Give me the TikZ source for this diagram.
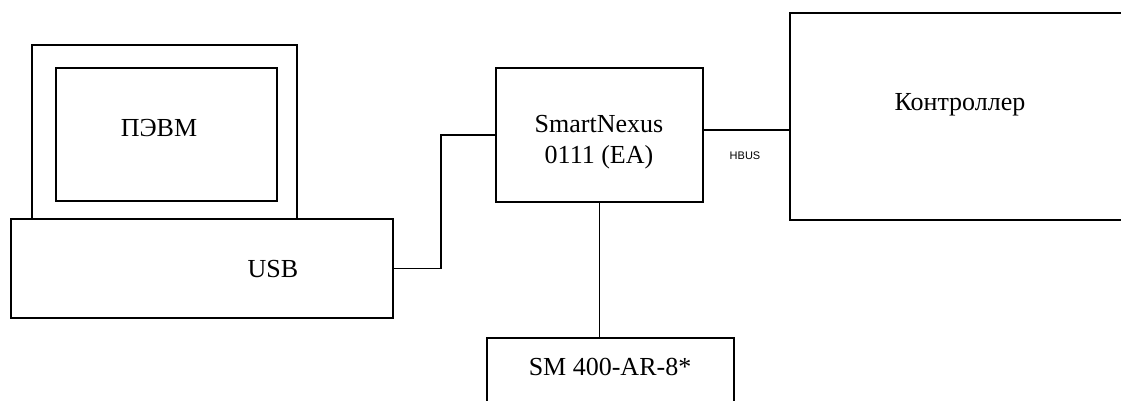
\documentclass[tikz,border=0pt]{standalone}
\usepackage{fontspec}
\setmainfont{Liberation Serif}
\newfontfamily\hbusfont{Liberation Sans}
\begin{document}
\begin{tikzpicture}[x=1pt,y=-1pt,
  box/.style={draw, line width=1.8pt, rectangle, inner sep=0pt},
  txt/.style={font=\fontsize{26}{31}\selectfont, inner sep=0pt, align=center},
  wire/.style={line width=1.6pt}]
\useasboundingbox (0,0) rectangle (1121,401);
\clip (0,0) rectangle (1121,401);
% PC
\node[box, minimum width=265pt, minimum height=174pt] (mon) at (164.5,132) {};
\node[box, minimum width=221pt, minimum height=133pt] (scr) at (166.5,134.5) {};
\node[txt] (pcl) at (159,128) {ПЭВМ};
\node[box, fill=white, minimum width=382pt, minimum height=99pt] (base) at (202,268.5) {};
\node[txt] (usb) at (273,269) {USB};
% SmartNexus
\node[box, minimum width=207pt, minimum height=134pt] (sn) at (599.5,135) {};
\node[txt] (snl) at (599,142) {SmartNexus\\0111 (EA)};
% Controller
\node[box, minimum width=360pt, minimum height=207pt] (ctrl) at (970,116.5) {};
\node[txt] (ctl) at (960,105) {Контроллер};
% SM module
\node[box, minimum width=247pt, minimum height=100pt] (sm) at (610.5,388) {};
\node[txt] (sml) at (610,367) {SM 400-AR-8*};
% connectors
\draw[wire] (base.east) -- ++(47,0) |- (sn.west);
\draw[wire] ([yshift=5pt]sn.east) -- ([yshift=5pt]sn.east -| ctrl.west);
\draw[wire] (sn.south) -- (sn.south |- sm.north);
\node[font=\hbusfont\fontsize{11}{13}\selectfont, inner sep=0pt] (hbus) at (745,156) {HBUS};
\end{tikzpicture}
\end{document}
